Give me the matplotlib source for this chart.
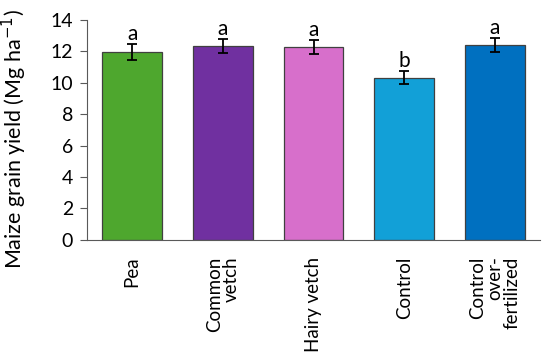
import matplotlib
matplotlib.use("Agg")
import matplotlib.pyplot as plt
import numpy as np

# Maize grain yield per treatment
treatments = ["Pea", "Common\nvetch", "Hairy vetch", "Control", "Control\nover-\nfertilized"]
yields = [11.95, 12.35, 12.28, 10.33, 12.40]
errors = [0.50, 0.43, 0.45, 0.43, 0.44]
letters = ["a", "a", "a", "b", "a"]
colors = ["#4EA72E", "#7030A0", "#D76FCB", "#12A0D7", "#0070C0"]

plt.rcParams['font.family'] = ['Lato', 'DejaVu Sans']

fig = plt.figure(figsize=(5.5, 3.58), dpi=100)
ax = fig.add_axes([0.158, 0.330, 0.824, 0.6145])

x = np.arange(len(treatments))
ax.bar(x, yields, width=0.66, color=colors, edgecolor="#404040", linewidth=0.9,
       yerr=errors, capsize=3.5, error_kw=dict(ecolor="black", elinewidth=1.3, capthick=1.3))

for xi, y, e, lab in zip(x, yields, errors, letters):
    ax.text(xi, y + e, lab, ha="center", va="bottom", fontsize=15)

ax.set_xlim(-0.5, 4.5)
ax.set_ylim(0, 14)
ax.set_yticks(range(0, 15, 2))
ax.set_xticks(x)
ax.set_xticklabels(treatments, rotation=90, multialignment="right", fontsize=13.5,
                   linespacing=1.0)
ax.tick_params(axis="x", length=0, pad=12)
ax.tick_params(axis="y", labelsize=14, length=5, color="#595959", pad=5)
ax.set_ylabel("Maize grain yield (Mg ha$^{-1}$)", fontsize=15.5)
ax.yaxis.set_label_coords(-0.127, 0.46)

for side in ["top", "right"]:
    ax.spines[side].set_visible(False)
for side in ["left", "bottom"]:
    ax.spines[side].set_color("#595959")

fig.savefig("out.png", dpi=100)
